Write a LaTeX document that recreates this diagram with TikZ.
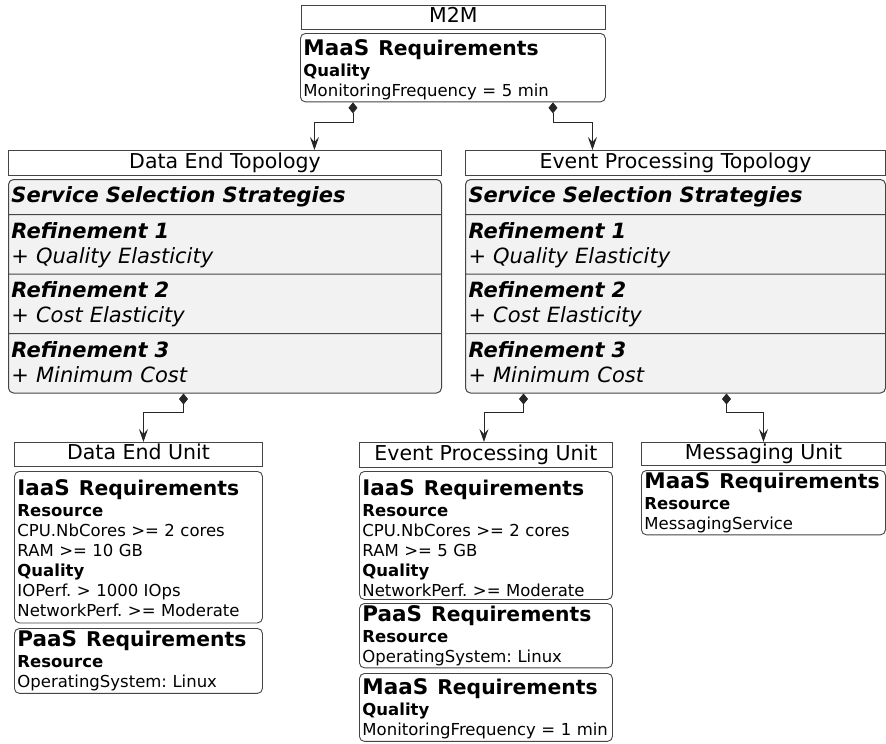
\documentclass[tikz,border=0pt]{standalone}
\usepackage{fontspec}
\setmainfont{DejaVu Sans}
\usetikzlibrary{arrows.meta,shapes.multipart}
\definecolor{boxline}{HTML}{454545}
\definecolor{stratfill}{HTML}{F2F2F2}
\frenchspacing
\newcommand{\lnstrut}[2]{\rule[-#2]{0pt}{\dimexpr#1+#2\relax}}
\newcommand{\reqhead}[2]{\mbox{{\fontsize{21.5}{22}\selectfont\bfseries #1}\hspace{9pt}{\fontsize{20.3}{22}\selectfont\bfseries #2}}}

\begin{document}
\begin{tikzpicture}[x=1pt,y=-1pt,
                        unittitle/.style={draw=boxline,line width=0.9pt,anchor=north west,inner sep=0pt,font=\fontsize{20.5}{20}\selectfont,text height=15pt,text depth=4.5pt},
                        reqbox/.style={draw=boxline,line width=0.9pt,rounded corners=5pt,fill=white,anchor=north west,inner xsep=3pt,inner ysep=2pt,align=left,font=\fontsize{16.5}{20}\selectfont},
                        stratbox/.style={draw=boxline,line width=1pt,rounded corners=5pt,fill=stratfill,anchor=north west,rectangle split,rectangle split parts=4,inner xsep=3pt,inner ysep=2pt,align=left,font=\fontsize{21}{25}\selectfont\itshape},
                        link/.style={draw=black!85,line width=0.9pt,{Diamond[length=11pt,width=9pt]}-{Stealth[length=13pt,width=9pt,inset=5pt]}}
                        ]
                        \useasboundingbox (0,0) rectangle (886,744);
                        %Ebene 1: M2M
                        \node [unittitle,minimum width=304pt,minimum height=24pt] (m2m) at (301,5) {M2M};
                        \node [reqbox,text width=299pt] (m2mreq) at (300,33) {\lnstrut{20pt}{0pt}\reqhead{MaaS}{Requirements}\\[1pt]\textbf{Quality}\\\mbox{MonitoringFrequency = 5 min}\lnstrut{0pt}{3pt}};
                        %Ebene 2: Topologien
                        \node [unittitle,minimum width=433pt,minimum height=25pt] (dettitle) at (8,150) {Data End Topology};
                        \node [stratbox,text width=427pt] (detstrat) at (8,179) {\bfseries\lnstrut{20pt}{10pt}Service Selection Strategies
                          \nodepart{two}\lnstrut{21pt}{0pt}\textbf{Refinement 1}\\+ Quality Elasticity\lnstrut{0pt}{8.5pt}
                          \nodepart{three}\lnstrut{21pt}{0pt}\textbf{Refinement 2}\\+ Cost Elasticity\lnstrut{0pt}{8.5pt}
                          \nodepart{four}\lnstrut{21pt}{0pt}\textbf{Refinement 3}\\+ Minimum Cost\lnstrut{0pt}{8.5pt}};
                        \node [unittitle,minimum width=420pt,minimum height=25pt] (epttitle) at (465,150) {Event Processing Topology};
                        \node [stratbox,text width=414pt] (eptstrat) at (465,179) {\bfseries\lnstrut{20pt}{10pt}Service Selection Strategies
                          \nodepart{two}\lnstrut{21pt}{0pt}\textbf{Refinement 1}\\+ Quality Elasticity\lnstrut{0pt}{8.5pt}
                          \nodepart{three}\lnstrut{21pt}{0pt}\textbf{Refinement 2}\\+ Cost Elasticity\lnstrut{0pt}{8.5pt}
                          \nodepart{four}\lnstrut{21pt}{0pt}\textbf{Refinement 3}\\+ Minimum Cost\lnstrut{0pt}{8.5pt}};
                        %Ebene 3: Data End Unit
                        \node [unittitle,minimum width=248pt,minimum height=24pt] (deutitle) at (14,442) {Data End Unit};
                        \node [reqbox,text width=242pt] (deuiaas) at (14,471) {\lnstrut{22pt}{0pt}\reqhead{IaaS}{Requirements}\\[1pt]\textbf{Resource}\\CPU.NbCores >= 2 cores\\RAM >= 10 GB\\\textbf{Quality}\\IOPerf. > 1000 IOps\\NetworkPerf. >= Moderate\lnstrut{0pt}{4.5pt}};
                        \node [reqbox,text width=242pt] (deupaas) at (14,628) {\reqhead{PaaS}{Requirements}\\[1pt]\textbf{Resource}\\OperatingSystem: Linux\lnstrut{0pt}{4pt}};
                        %Ebene 3: Event Processing Unit
                        \node [unittitle,minimum width=253pt,minimum height=25pt] (eputitle) at (359,442) {Event Processing Unit};
                        \node [reqbox,text width=247pt] (epuiaas) at (359,471) {\lnstrut{22pt}{0pt}\reqhead{IaaS}{Requirements}\\[1pt]\textbf{Resource}\\CPU.NbCores >= 2 cores\\RAM >= 5 GB\\\textbf{Quality}\\NetworkPerf. >= Moderate\lnstrut{0pt}{1pt}};
                        \node [reqbox,text width=247pt] (epupaas) at (359,603) {\reqhead{PaaS}{Requirements}\\[1pt]\textbf{Resource}\\OperatingSystem: Linux\lnstrut{0pt}{2pt}};
                        \node [reqbox,text width=247pt] (epumaas) at (359,673) {\lnstrut{19.5pt}{0pt}\reqhead{MaaS}{Requirements}\\[1pt]\textbf{Quality}\\\mbox{MonitoringFrequency = 1 min}\lnstrut{0pt}{3pt}};
                        %Ebene 3: Messaging Unit
                        \node [unittitle,minimum width=244pt,minimum height=23pt] (mutitle) at (641,442) {Messaging Unit};
                        \node [reqbox,text width=238pt] (mumaas) at (641,470) {\reqhead{MaaS}{Requirements}\\[1pt]\textbf{Resource}\\MessagingService\lnstrut{0pt}{2pt}};
                        %Verbindungen
                        \draw [link] ([xshift=-100pt]m2mreq.south) -- ++(0,20) -| ([xshift=89.5pt]dettitle.north);
                        \draw [link] ([xshift=100pt]m2mreq.south) -- ++(0,20) -| ([xshift=-83pt]epttitle.north);
                        \draw [link] ([xshift=-41.5pt]detstrat.south) -- ++(0,19) -| ([xshift=5pt]deutitle.north);
                        \draw [link] ([xshift=-152pt]eptstrat.south) -- ++(0,19) -| ([xshift=-2pt]eputitle.north);
                        \draw [link] ([xshift=51pt]eptstrat.south) -- ++(0,19) -| (mutitle.north);
                \end{tikzpicture}
\end{document}
